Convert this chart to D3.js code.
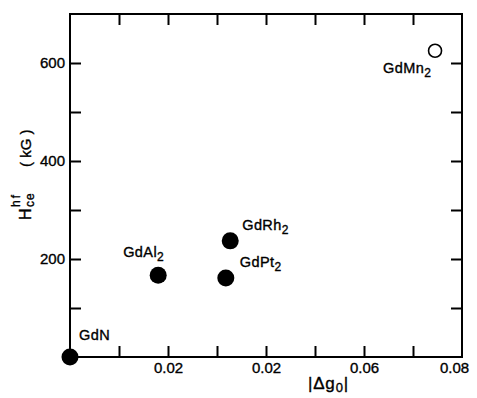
<!DOCTYPE html>
<html>
<head>
<meta charset="utf-8">
<script src="https://cdn.jsdelivr.net/npm/d3@7"></script>
<style>
  html, body { margin: 0; padding: 0; background: #fff; }
  svg { display: block; font-family: "Liberation Sans", Arial, Helvetica, sans-serif; }
  svg text { fill: #000; stroke: #000; stroke-width: 0.35px; }
</style>
</head>
<body>
<script>
// ---- data ----
const compounds = ["GdN", "GdAl", "GdPt", "GdRh", "GdMn"];
const compoundSub = ["", "2", "2", "2", "2"];
const deltaG0 = [0, 0.018, 0.0318, 0.0327, 0.0745];
const hyperfine = [0, 167, 161, 237, 625];
const filledMarker = [true, true, true, true, false];

const xTicks = [0.01, 0.02, 0.03, 0.04, 0.05, 0.06, 0.07];
const xTickLabels = { 0.02: "0.02", 0.04: "0.02", 0.06: "0.06", 0.08: "0.08" };
const yTicks = [100, 200, 300, 400, 500, 600];
const yTickLabels = { 200: "200", 400: "400", 600: "600" };

// ---- layout ----
const W = 477, H = 398;
const mLeft = 70, mRight = 462, mTop = 14, mBottom = 357;

const x = d3.scaleLinear().domain([0, 0.08]).range([mLeft, mRight]);
const y = d3.scaleLinear().domain([0, 700]).range([mBottom, mTop]);

const svg = d3.select("body").append("svg").attr("width", W).attr("height", H);

const tickLen = 11;
function styleAxis(g) {
  g.select(".domain").remove();
  g.selectAll(".tick line").attr("stroke", "#000").attr("stroke-width", 2);
  g.selectAll(".tick text").style("font-size", "15px")
    .style("font-family", "'Liberation Sans', Arial, sans-serif");
}

// bottom axis with labels
svg.append("g").attr("transform", `translate(0,${mBottom})`)
  .call(d3.axisBottom(x).tickValues(xTicks.concat([0.08])).tickSize(-tickLen).tickPadding(5)
    .tickFormat(d => xTickLabels[Math.round(d * 100) / 100] || ""))
  .call(styleAxis)
  .call(g => g.selectAll(".tick").filter(d => d === 0.08).select("line").remove())
  .call(g => g.selectAll(".tick").filter(d => d === 0.08).select("text").attr("dx", -8));

// top axis
svg.append("g").attr("transform", `translate(0,${mTop})`)
  .call(d3.axisTop(x).tickValues(xTicks).tickSize(-tickLen).tickFormat(""))
  .call(styleAxis);

// left axis with labels
svg.append("g").attr("transform", `translate(${mLeft},0)`)
  .call(d3.axisLeft(y).tickValues(yTicks).tickSize(-tickLen).tickPadding(5)
    .tickFormat(d => yTickLabels[d] || ""))
  .call(styleAxis);

// right axis
svg.append("g").attr("transform", `translate(${mRight},0)`)
  .call(d3.axisRight(y).tickValues(yTicks).tickSize(-tickLen).tickFormat(""))
  .call(styleAxis);

// frame
svg.append("rect")
  .attr("x", mLeft).attr("y", mTop)
  .attr("width", mRight - mLeft).attr("height", mBottom - mTop)
  .attr("fill", "none").attr("stroke", "#000").attr("stroke-width", 2);

// points
const pts = compounds.map((c, i) => ({ name: c, sub: compoundSub[i], dg: deltaG0[i], h: hyperfine[i], filled: filledMarker[i] }));

svg.append("g").selectAll("circle").data(pts).join("circle")
  .attr("cx", d => x(d.dg)).attr("cy", d => y(d.h))
  .attr("r", d => d.filled ? 8.5 : 6.5)
  .attr("fill", d => d.filled ? "#000" : "#fff")
  .attr("stroke", "#000").attr("stroke-width", d => d.filled ? 0 : 1.6);

// point labels (offsets in pixels from marker)
const labelOffset = {
  GdN: [9, -17], GdAl: [-35, -18], GdPt: [14, -11], GdRh: [12, -11], GdMn: [-52, 22]
};
const lbl = svg.append("g").selectAll("text").data(pts).join("text")
  .attr("x", d => x(d.dg) + labelOffset[d.name][0])
  .attr("y", d => y(d.h) + labelOffset[d.name][1])
  .style("font-size", "14.5px").style("letter-spacing", "0.4px");
lbl.append("tspan").text(d => d.name);
lbl.filter(d => d.sub).append("tspan").attr("dy", 4).style("font-size", "12px").text(d => d.sub);

// x-axis title |Δg0|
const xt = svg.append("text").attr("x", 308).attr("y", 389).style("font-size", "17px").style("letter-spacing", "0.8px");
xt.append("tspan").text("|Δg");
xt.append("tspan").attr("dy", 3).style("font-size", "13px").text("0");
xt.append("tspan").attr("dy", -3).text("|");

// y-axis title H^hf_ce (kG)
const yt = svg.append("g").attr("transform", "translate(31,220) rotate(-90)");
yt.append("text").attr("x", 0).attr("y", 0).style("font-size", "16px").text("H");
yt.append("text").attr("x", 13).attr("y", 3).style("font-size", "12px").style("letter-spacing", "1px").text("ce");
yt.append("text").attr("x", 13).attr("y", -11).style("font-size", "12px").style("letter-spacing", "2px").text("hf");
yt.append("text").attr("x", 53).attr("y", 0).style("font-size", "15px").style("white-space", "pre").text("( kG )");
</script>
</body>
</html>
